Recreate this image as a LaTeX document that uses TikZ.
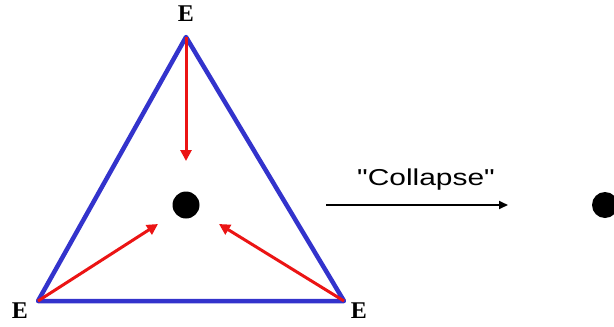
\documentclass[tikz,border=0pt]{standalone}
\usepackage{fontspec}
\newfontfamily\arialwide[FakeStretch=1.3]{Liberation Sans}
\setmainfont{Liberation Serif}
\usetikzlibrary{arrows.meta}
\definecolor{triblue}{RGB}{51,51,204}
\definecolor{arrred}{RGB}{235,20,20}
\begin{document}
\begin{tikzpicture}[x=1pt,y=-1pt,
  vlabel/.style={font=\bfseries\fontsize{24}{24}\selectfont, inner sep=0pt},
  edge/.style={draw=triblue, line width=4.5pt, line join=round},
  redarrow/.style={draw=arrred, line width=3pt, -{Triangle[length=11pt,width=11pt]}},
  dot/.style={circle, fill=black, inner sep=0pt, minimum size=27pt}]
\useasboundingbox (0,0) rectangle (614,327);
\clip (0,0) rectangle (614,327);
\coordinate (A) at (186,37);
\coordinate (B) at (38,301);
\coordinate (C) at (344,301);
\draw[edge] (A) -- (B) -- (C) -- cycle;
\node[dot] (D) at (186,205) {};
\coordinate (At) at (186,161);
\coordinate (Bt) at (158,224);
\coordinate (Ct) at (219,224);
\draw[redarrow] (A) -- (At);
\draw[redarrow] (B) -- (Bt);
\draw[redarrow] (C) -- (Ct);
\node[vlabel] (EA) at (186,14) {E};
\node[vlabel] (EB) at (20,311) {E};
\node[vlabel] (EC) at (359,311) {E};
\coordinate (P) at (326,205);
\coordinate (Q) at (508,205);
\draw[line width=2pt, -{Triangle[length=9pt,width=8pt]}] (P) -- (Q);
\node[font=\arialwide\fontsize{23}{23}\selectfont, inner sep=0pt] (L) at (426,180) {"Collapse"};
\node[dot, minimum size=26pt] (D2) at (605,205) {};
\end{tikzpicture}
\end{document}
